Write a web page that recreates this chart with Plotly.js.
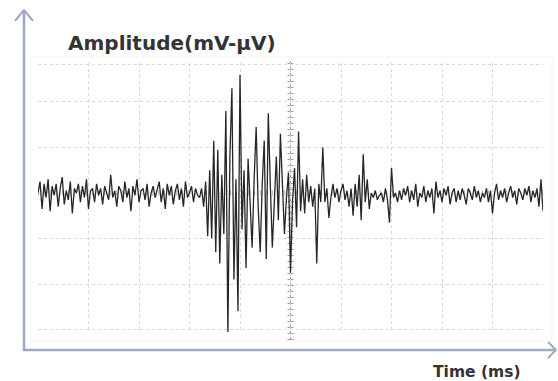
<!DOCTYPE html>
<html>
<head>
<meta charset="utf-8">
<script src="https://cdn.plot.ly/plotly-3.0.1.min.js"></script>
<style>
  html, body { margin: 0; padding: 0; background: #ffffff; }
  #chart { width: 558px; height: 381px; }
</style>
</head>
<body>
<div id="chart"></div>
<script>
// ---- data (amplitude in grid divisions, sampled every 0.04 ms) ----
const sampleStartMs = 0;
const sampleStepMs = 0.04;

const amplitudeBaseline = [
  0.0, 0.25, -0.35, 0.2, -0.1, 0.3, -0.4, 0.15, -0.05, 0.2,
  -0.3, 0.1, 0.35, -0.25, 0.05, -0.15, 0.25, -0.45, 0.1, 0.0,
  0.2, -0.2, 0.15, -0.1, 0.3, -0.35, 0.05, 0.1, -0.2, 0.2,
  -0.05, 0.1, -0.25, 0.15, 0.0, -0.15, 0.4, -0.1, 0.05, -0.3,
  0.15, 0.05, -0.2, 0.25, -0.1, 0.1, -0.4, 0.15, -0.05, 0.3,
  -0.2, 0.05, 0.1, -0.15, 0.2, -0.3, 0.0, 0.15, -0.1, 0.05,
  0.25, -0.2, 0.1, -0.35, 0.2, -0.05, 0.15, -0.25, 0.05, 0.2,
  -0.15, 0.1, -0.3, 0.25, -0.1, 0.0, 0.15, -0.2, 0.1, -0.05
];

const amplitudeBurst = [
  -0.1, 0.1, -0.3, 0.25, -0.95, 0.5, -1.0, 1.15, -1.3, 0.95,
  -1.55, 0.4, -0.9, 1.8, -3.1, 0.8, 2.3, -1.9, 0.3, -2.6,
  2.6, -0.8, 0.5, -1.65, 0.75, -0.2, -1.2, 0.3, 1.45, -0.3,
  -1.3, 0.2, 1.15, -1.45, 1.75, 0.2, -1.2, -0.2, 0.8, -0.6,
  1.3, 0.2, -0.9, -0.1, 0.45, -1.75, -0.2, 0.55, -0.75, 1.35,
  -0.4, 0.3, -0.45, 0.4, -0.2, 0.15, -0.3, 0.1, -1.55, 0.2,
  -0.2, 1.0, -0.2, 0.1, -0.55, -0.1, 0.2, -0.1, 0.1, -0.2,
  0.05, 0.2, -0.15, 0.05, -0.3, 0.1, -0.5, 0.2, -0.3, 0.4,
  -0.6, 0.85, -0.2, 0.3, -0.35, 0.0
];

const amplitudeTail = [
  -0.1, 0.05, -0.15, -0.05,
  0.0, -0.2, 0.1, -0.15, -0.65, 0.55, -0.1, 0.0, -0.2, 0.05,
  -0.15, 0.1, -0.05, 0.15, -0.2, 0.05, -0.15, 0.2, -0.3, 0.0,
  -0.1, 0.15, -0.2, 0.05, -0.1, 0.1, -0.45, 0.25, -0.1, 0.05,
  -0.2, 0.1, -0.05, 0.15, -0.25, 0.0, 0.1, -0.2, 0.05, -0.15,
  0.1, -0.05, -0.25, 0.1, 0.0, -0.15, 0.15, -0.1, 0.05, -0.2,
  0.0, -0.1, 0.1, -0.2, 0.05, -0.45, 0.0, 0.2, -0.15, 0.05,
  -0.1, 0.1, -0.2, 0.0, 0.15, -0.1, 0.05, -0.25, 0.1, 0.0,
  -0.15, 0.1, -0.05, 0.15, -0.2, 0.05, -0.1, 0.1, -0.3, 0.3,
  -0.4
];

const xGridTicks = [0, 1, 2, 3, 4, 5, 6, 7, 8, 9, 10];
const yGridTicks = [-3, -2, -1, 0, 1, 2, 2.82];
const yAxisTitle = 'Amplitude(mV-µV)';
const xAxisTitle = 'Time (ms)';

// ---- layout helpers (pixel -> paper) ----
const W = 558, H = 381;
const M = { l: 38, r: 15, t: 63, b: 49 };
const PW = W - M.l - M.r, PH = H - M.t - M.b;
const px = x => (x - M.l) / PW;
const py = y => (H - M.b - y) / PH;

const amplitude = amplitudeBaseline.concat(amplitudeBurst, amplitudeTail);

const axisColor = '#9ea9c6';

const trace = {
  type: 'scatter',
  mode: 'lines',
  x0: sampleStartMs,
  dx: sampleStepMs,
  y: amplitude,
  line: { color: '#262626', width: 1.3 },
  hoverinfo: 'skip'
};

const shapes = [
  // faint outer frame
  { type: 'rect', xref: 'paper', yref: 'paper', x0: px(31), x1: px(552), y0: py(341), y1: py(57),
    line: { color: '#f3f3ea', width: 1 }, layer: 'below' },
  // centre vertical graticule line with tick marks
  { type: 'line', xref: 'x', yref: 'paper', x0: 5, x1: 5, y0: py(340), y1: py(60),
    line: { color: '#a0a0a0', width: 1, dash: 'dot' }, layer: 'below' },
  { type: 'line', xref: 'x', yref: 'paper', x0: 5, x1: 5, y0: py(340), y1: py(60),
    line: { color: '#a0a0a0', width: 6, dash: '1px,5px' }, layer: 'below' },
  // centre horizontal graticule ticks
  { type: 'line', xref: 'paper', yref: 'y', x0: 0, x1: 1, y0: 0, y1: 0,
    line: { color: '#b5b5b5', width: 5, dash: '1px,5px' }, layer: 'below' },
  // y axis arrow
  { type: 'line', xref: 'paper', yref: 'paper', x0: px(24), x1: px(24), y0: py(351), y1: py(10),
    line: { color: axisColor, width: 2.5 } },
  { type: 'line', xref: 'paper', yref: 'paper', x0: px(15), x1: px(24), y0: py(21), y1: py(10),
    line: { color: axisColor, width: 2 } },
  { type: 'line', xref: 'paper', yref: 'paper', x0: px(33), x1: px(24), y0: py(21), y1: py(10),
    line: { color: axisColor, width: 2 } },
  // x axis arrow
  { type: 'line', xref: 'paper', yref: 'paper', x0: px(23), x1: px(556), y0: py(350), y1: py(350),
    line: { color: axisColor, width: 2.5 } },
  { type: 'line', xref: 'paper', yref: 'paper', x0: px(548), x1: px(556), y0: py(342), y1: py(350),
    line: { color: axisColor, width: 2 } },
  { type: 'line', xref: 'paper', yref: 'paper', x0: px(548), x1: px(556), y0: py(358), y1: py(350),
    line: { color: axisColor, width: 2 } }
];

const annotations = [
  { xref: 'paper', yref: 'paper', x: px(66), y: py(43), xanchor: 'left', yanchor: 'middle',
    text: '<b>' + yAxisTitle + '</b>', showarrow: false,
    font: { family: 'DejaVu Sans, Verdana, sans-serif', size: 20, color: '#333333' } },
  { xref: 'paper', yref: 'paper', x: px(431), y: py(372), xanchor: 'left', yanchor: 'middle',
    text: '<b>' + xAxisTitle + '</b>', showarrow: false,
    font: { family: 'DejaVu Sans, Verdana, sans-serif', size: 15.5, color: '#333333' } }
];

const layout = {
  width: W, height: H,
  margin: M,
  paper_bgcolor: '#ffffff',
  plot_bgcolor: '#ffffff',
  showlegend: false,
  xaxis: {
    range: [0, 10], tickmode: 'array', tickvals: xGridTicks,
    showgrid: true, gridcolor: '#d8d8d8', griddash: 'dot', gridwidth: 1,
    zeroline: false, showline: false, showticklabels: false, ticks: '', fixedrange: true
  },
  yaxis: {
    range: [-3.055, 2.857], tickmode: 'array', tickvals: yGridTicks,
    showgrid: true, gridcolor: '#d8d8d8', griddash: 'dot', gridwidth: 1,
    zeroline: false, showline: false, showticklabels: false, ticks: '', fixedrange: true
  },
  shapes: shapes,
  annotations: annotations
};

Plotly.newPlot('chart', [trace], layout, { displayModeBar: false, staticPlot: true });
</script>
</body>
</html>
